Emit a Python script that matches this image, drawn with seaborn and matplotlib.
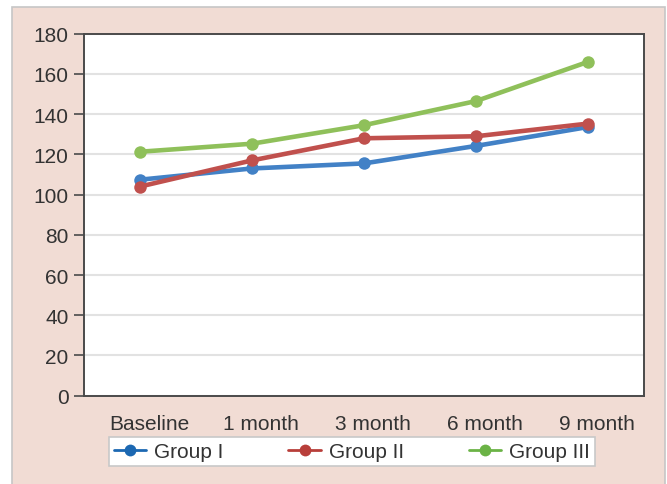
import matplotlib
matplotlib.use("Agg")
import matplotlib.pyplot as plt
import matplotlib.transforms as mtransforms
from matplotlib.lines import Line2D
from matplotlib.patches import Rectangle
import pandas as pd
import seaborn as sns

# Follow-up time points and group means
timepoints = ["Baseline", "1 month", "3 month", "6 month", "9 month"]
groups = ["Group I", "Group II", "Group III"]
group_1 = [107.4, 113.0, 115.5, 124.2, 133.6]
group_2 = [104.0, 117.0, 128.0, 129.0, 135.3]
group_3 = [121.3, 125.3, 134.5, 146.5, 166.0]
y_ticks = [0, 20, 40, 60, 80, 100, 120, 140, 160, 180]

line_colors = ["#4281c6", "#c0504d", "#8fc05a"]
legend_colors = ["#1c68b2", "#b83e3a", "#6bb346"]

df = pd.DataFrame({
    "time": timepoints * 3,
    "value": group_1 + group_2 + group_3,
    "group": [g for g in groups for _ in timepoints],
})

sns.set_theme(style="white")
plt.rcParams["font.family"] = ["Liberation Sans", "DejaVu Sans"]

W, H = 667, 485
fig = plt.figure(figsize=(W / 100, H / 100), dpi=100)
fig.patch.set_facecolor("white")

# Tinted backdrop panel with thin grey border
backdrop = Rectangle((12 / W, 1 - 487 / H), 653 / W, 479 / H,
                     transform=fig.transFigure, facecolor="#f1dcd4",
                     edgecolor="#c6c6c6", linewidth=1.2, zorder=-10)
fig.patches.append(backdrop)

ax = fig.add_axes([84 / W, 1 - 396.7 / H, 560 / W, 362 / H])
ax.set_zorder(1)
ax.set_facecolor("white")

sns.lineplot(data=df, x="time", y="value", hue="group", hue_order=groups,
             palette=line_colors, marker="o", markersize=9, linewidth=3.3,
             markeredgewidth=0, sort=False, legend=False, ax=ax)

ax.set_xlim(-0.5, 4.5)
ax.set_ylim(0, 180)
ax.set_yticks(y_ticks)
ax.set_xlabel("")
ax.set_ylabel("")
ax.yaxis.grid(True, color="#e2e2e2", linewidth=1.5)
ax.set_axisbelow(True)

for side in ["left", "bottom", "top", "right"]:
    ax.spines[side].set_visible(True)
    ax.spines[side].set_color("#4a4a4a")
    ax.spines[side].set_linewidth(1.4)

ax.tick_params(axis="y", left=True, length=7.2, width=1.2, color="#4a4a4a",
               labelsize=15, labelcolor="#333333", pad=4)
ax.tick_params(axis="x", bottom=False, labelsize=15, labelcolor="#333333", pad=7)

# category labels sit a little right of the data columns
shift = mtransforms.ScaledTranslation(9 / 100, 0, fig.dpi_scale_trans)
for lbl in ax.get_xticklabels():
    lbl.set_transform(lbl.get_transform() + shift)

handles = [Line2D([0], [0], color=c, marker="o", markersize=8.5, linewidth=2,
                  markeredgewidth=0) for c in legend_colors]
leg = fig.legend(handles, groups, loc="center", bbox_to_anchor=(352 / W, 1 - 452.5 / H),
                 ncol=3, frameon=True, fancybox=False, fontsize=15,
                 handlelength=1.55, handletextpad=0.4, columnspacing=3.1,
                 borderpad=0.25, labelcolor="#333333", framealpha=1)
leg.set_zorder(2)
leg.get_frame().set_edgecolor("#c8c8c8")
leg.get_frame().set_linewidth(1.2)
leg.get_frame().set_facecolor("white")

fig.savefig("out.png", dpi=100)
